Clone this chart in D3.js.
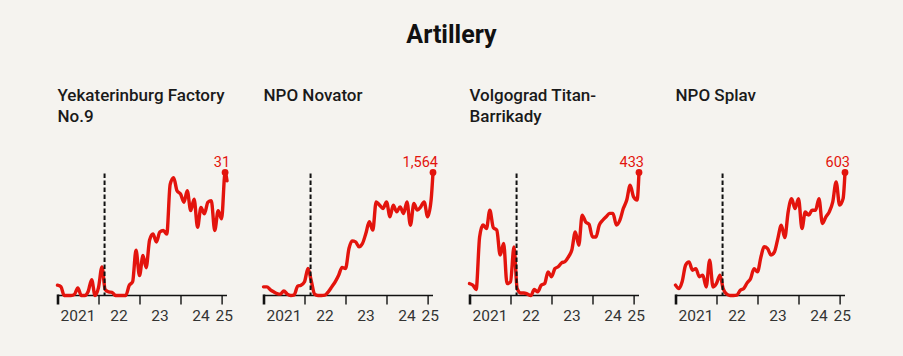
<!DOCTYPE html>
<html>
<head>
<meta charset="utf-8">
<script src="https://cdn.jsdelivr.net/npm/d3@7"></script>
<style>
  html, body { margin: 0; padding: 0; background: #f5f3ef; }
  svg { display: block; }
  text { font-family: Roboto, "Noto Sans", sans-serif; }
</style>
</head>
<body>
<svg id="chart" width="903" height="356"></svg>
<script>
// ---- data ----
const chartTitle = "Artillery";
const panelTitles = [
  ["Yekaterinburg Factory", "No.9"],
  ["NPO Novator"],
  ["Volgograd Titan-", "Barrikady"],
  ["NPO Splav"]
];
// monthly observations Jan 2021 .. Feb 2025, plus a final mid-Feb 2025 point
const dates = [
  "2021-01-01","2021-02-01","2021-03-01","2021-04-01","2021-05-01","2021-06-01",
  "2021-07-01","2021-08-01","2021-09-01","2021-10-01","2021-11-01","2021-12-01",
  "2022-01-01","2022-02-01","2022-03-01","2022-04-01","2022-05-01","2022-06-01",
  "2022-07-01","2022-08-01","2022-09-01","2022-10-01","2022-11-01","2022-12-01",
  "2023-01-01","2023-02-01","2023-03-01","2023-04-01","2023-05-01","2023-06-01",
  "2023-07-01","2023-08-01","2023-09-01","2023-10-01","2023-11-01","2023-12-01",
  "2024-01-01","2024-02-01","2024-03-01","2024-04-01","2024-05-01","2024-06-01",
  "2024-07-01","2024-08-01","2024-09-01","2024-10-01","2024-11-01","2024-12-01",
  "2025-01-01","2025-02-01","2025-02-18"
];
const yekaterinburg = [
  2.6,2.2,0,0,0,0.3,1.9,0,0,1.0,4.0,0,
  2.0,7.2,1.5,0.9,0.8,0,0,0,0,2.5,3.5,11.4,
  5.0,10.1,7.0,14,15.5,13.5,16,16.4,15.5,28,29.7,26.4,
  25.6,23.5,26.4,21.4,24.3,17.2,22.2,20.6,23.5,23.9,16.4,21.4,
  19.3,31,28.9
];
const novator = [
  110,110,76,47,25,17,59,17,0,8,119,131,
  174,343,195,17,0,0,4,47,110,174,258,356,
  343,598,695,682,619,661,788,937,831,1191,1148,1106,
  1191,1000,1148,1064,1127,1043,1191,894,1170,1085,1127,1191,
  1000,1212,1564
];
const titanBarrikady = [
  42,36,21,206,248,236,300,239,230,142,183,42,
  48,171,25,9,9,5,0,21,13,36,42,83,
  66,95,101,115,119,136,160,224,177,283,259,251,
  206,206,248,265,277,289,289,248,265,306,336,388,
  347,336,433
];
const splav = [
  51,34,67,149,165,124,132,92,100,42,173,42,
  59,100,34,7,0,0,2,26,34,62,83,132,
  116,190,239,230,198,214,279,345,284,410,475,426,
  475,328,410,394,418,418,475,353,386,410,459,557,
  443,475,603
];
const seriesList = [yekaterinburg, novator, titanBarrikady, splav];
const peakLabels = ["31", "1,564", "433", "603"];
const invasionDate = "2022-02-24";
const axisStart = "2021-01-01";
const axisEnd = "2025-02-18";
const tickDates = ["2021-01-01","2022-01-01","2023-01-01","2024-01-01","2025-01-01"];
const tickLabels = ["2021","22","23","24","25"];

// ---- drawing ----
const parse = d3.utcParse("%Y-%m-%d");
const svg = d3.select("#chart");
const W = 903;
const red = "#e3140d";
const panelLeft = 57.5, panelStep = 206, panelW = 169.5;
const yBase = 295.5, yTop = 172.5;

svg.append("rect").attr("width", W).attr("height", 356).attr("fill", "#f5f3ef");

svg.append("text")
  .attr("x", W / 2).attr("y", 43)
  .attr("text-anchor", "middle")
  .attr("font-size", 25).attr("font-weight", 700).attr("fill", "#111")
  .text(chartTitle);

const ticksParsed = tickDates.map(parse);
const domEnd = parse(axisEnd);

seriesList.forEach((vals, k) => {
  const x0 = panelLeft + k * panelStep;
  const g = svg.append("g").attr("transform", `translate(${x0},0)`);
  const x = d3.scaleUtc().domain([parse(axisStart), domEnd]).range([0, panelW]);
  const y = d3.scaleLinear().domain([0, d3.max(vals)]).range([yBase, yTop]);
  const pts = dates.map((d, i) => ({ date: parse(d), v: vals[i] }));

  // panel title
  const t = g.append("text").attr("x", 0).attr("y", 101)
    .attr("font-size", 17).attr("font-weight", 500).attr("fill", "#1a1a1a");
  panelTitles[k].forEach((line, j) => {
    t.append("tspan").attr("x", 0).attr("y", 101 + j * 21).text(line);
  });

  // x axis
  const axis = d3.axisBottom(x).tickValues(ticksParsed).tickSize(9).tickFormat("");
  const ag = g.append("g").attr("transform", `translate(0,${yBase})`).call(axis);
  ag.select(".domain").attr("stroke", "#111").attr("stroke-width", 1.5)
    .attr("d", `M0,0H${panelW}`);
  ag.selectAll(".tick line").attr("stroke", "#111").attr("stroke-width", 1.4);
  ag.selectAll(".tick").filter((d, i) => i === 0).select("line")
    .attr("stroke-width", 2.6).attr("y1", -1);

  // tick labels centred in each year interval
  const bounds = ticksParsed.concat([domEnd]);
  tickLabels.forEach((lab, i) => {
    const cx = (x(bounds[i]) + x(bounds[i + 1])) / 2;
    g.append("text").attr("x", cx).attr("y", 320.5)
      .attr("text-anchor", "middle").attr("font-size", 15.5)
      .attr("fill", "#333").text(lab);
  });

  // line
  const line = d3.line().x(d => x(d.date)).y(d => y(d.v)).curve(d3.curveMonotoneX);
  g.append("path").datum(pts).attr("d", line)
    .attr("fill", "none").attr("stroke", red).attr("stroke-width", 3.4)
    .attr("stroke-linejoin", "round").attr("stroke-linecap", "round");

  // invasion marker
  const xi = x(parse(invasionDate));
  g.append("line").attr("x1", xi).attr("x2", xi)
    .attr("y1", yTop + 1).attr("y2", yBase)
    .attr("stroke", "#111").attr("stroke-width", 2).attr("stroke-dasharray", "4.5,2.5");

  // peak dot + label
  const peak = pts[d3.maxIndex(pts, d => d.v)];
  g.append("circle").attr("cx", x(peak.date)).attr("cy", y(peak.v)).attr("r", 3.4).attr("fill", red);
  g.append("text").attr("x", x(peak.date) + 5).attr("y", y(peak.v) - 5.8)
    .attr("text-anchor", "end").attr("font-size", 14.5).attr("fill", red)
    .text(peakLabels[k]);
});
</script>
</body>
</html>
